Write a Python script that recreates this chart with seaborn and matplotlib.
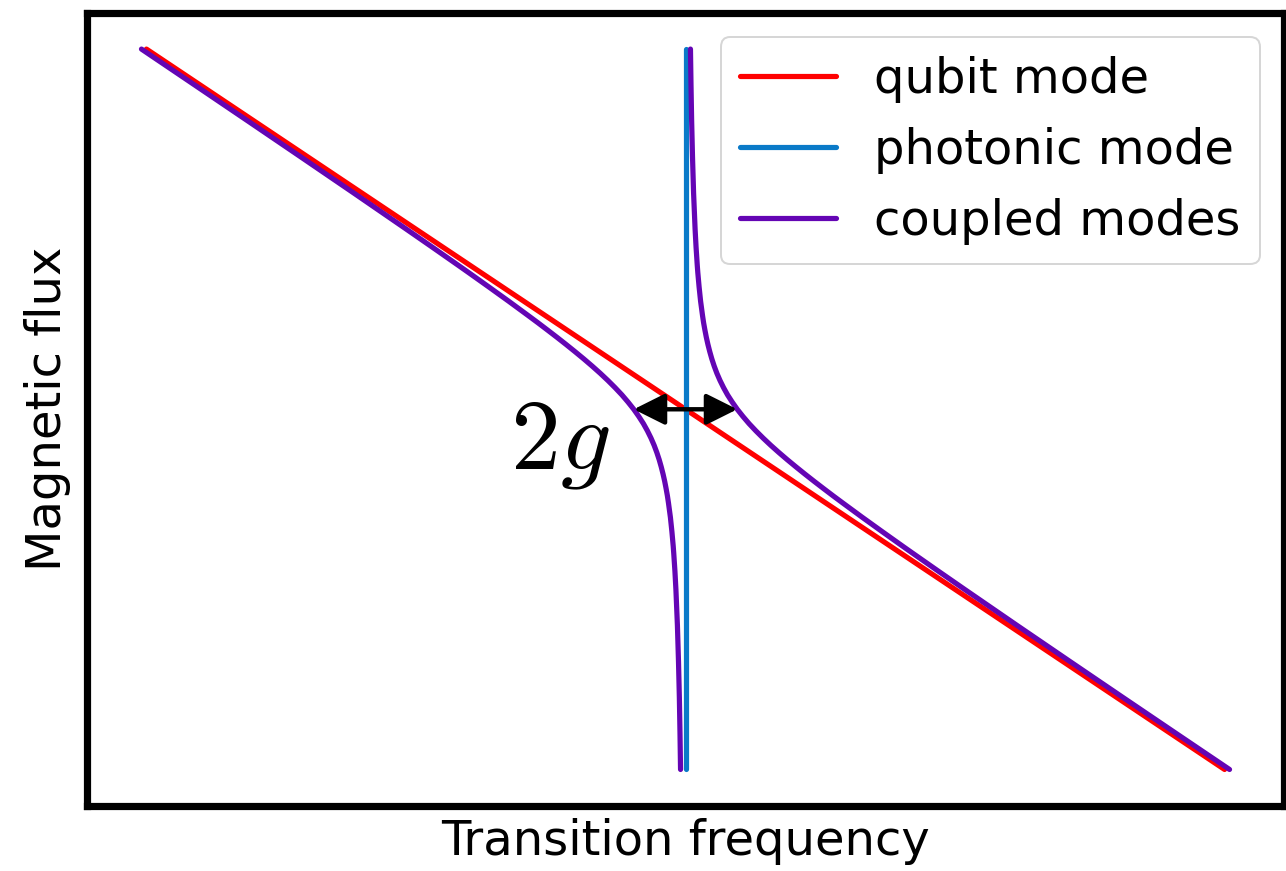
import matplotlib
matplotlib.use("Agg")
import matplotlib.pyplot as plt
import seaborn as sns

# ---- data (arbitrary units) ----
qubit_freq = [0.0, 1.0]
qubit_flux = [1.0, 0.0]

photon_freq = [0.5, 0.5]
photon_flux = [0.0, 1.0]

coupled_flux = [1.0, 0.95, 0.9, 0.85, 0.8, 0.75, 0.725, 0.7,
                0.69, 0.68, 0.67, 0.66, 0.65, 0.64, 0.63, 0.62, 0.61, 0.6,
                0.59, 0.58, 0.57, 0.56, 0.55, 0.54, 0.53, 0.52, 0.51, 0.5,
                0.49, 0.48, 0.47, 0.46, 0.45, 0.44, 0.43, 0.42, 0.41, 0.4,
                0.39, 0.38, 0.37, 0.36, 0.35, 0.34, 0.33, 0.32, 0.31,
                0.3, 0.275, 0.25, 0.2, 0.15, 0.1, 0.05, 0.0]
coupled_lower = [-0.0046, 0.0449, 0.0943, 0.1435, 0.1925, 0.2411, 0.2652, 0.2891,
                 0.2986, 0.3080, 0.3174, 0.3267, 0.3360, 0.3451, 0.3542, 0.3632,
                 0.3720, 0.3807, 0.3892, 0.3975, 0.4056, 0.4134, 0.4209, 0.4280,
                 0.4347, 0.4410, 0.4467, 0.4520, 0.4567, 0.4610, 0.4647, 0.4680,
                 0.4709, 0.4734, 0.4756, 0.4775, 0.4792, 0.4807, 0.4820, 0.4832,
                 0.4842, 0.4851, 0.4860, 0.4867, 0.4874, 0.4880, 0.4886,
                 0.4891, 0.4902, 0.4911, 0.4925, 0.4935, 0.4943, 0.4949, 0.4954]
coupled_upper = [0.5046, 0.5051, 0.5057, 0.5065, 0.5075, 0.5089, 0.5098, 0.5109,
                 0.5114, 0.5120, 0.5126, 0.5133, 0.5140, 0.5149, 0.5158, 0.5168,
                 0.5180, 0.5193, 0.5208, 0.5225, 0.5244, 0.5266, 0.5291, 0.5320,
                 0.5353, 0.5390, 0.5433, 0.5480, 0.5533, 0.5590, 0.5653, 0.5720,
                 0.5791, 0.5866, 0.5944, 0.6025, 0.6108, 0.6193, 0.6280, 0.6368,
                 0.6458, 0.6549, 0.6640, 0.6733, 0.6826, 0.6920, 0.7014,
                 0.7109, 0.7348, 0.7589, 0.8075, 0.8565, 0.9057, 0.9551, 1.0046]

gap_left, gap_right, gap_flux = 0.452, 0.548, 0.5
gap_label = r"$2g$"

# ---- style ----
sns.set_style("white")
plt.rcParams["font.family"] = ["DejaVu Sans"]
plt.rcParams["mathtext.fontset"] = "cm"
plt.rcParams["text.color"] = "black"
plt.rcParams["axes.labelcolor"] = "black"
plt.rcParams["legend.labelcolor"] = "black"

DPI = 144
fig = plt.figure(figsize=(1286 / DPI, 871 / DPI), dpi=DPI)
ax = fig.add_axes([0.0677, 0.0752, 0.9307, 0.9098])

RED = "#ff0000"
BLUE = "#0a7ac8"
PURPLE = "#6405b4"
LW = 2.6

sns.lineplot(x=qubit_freq, y=qubit_flux, sort=False, estimator=None, ax=ax,
             color=RED, lw=LW, label="qubit mode")
sns.lineplot(x=photon_freq, y=photon_flux, sort=False, estimator=None, ax=ax,
             color=BLUE, lw=LW, label="photonic mode")
sns.lineplot(x=coupled_lower, y=coupled_flux, sort=False, estimator=None, ax=ax,
             color=PURPLE, lw=LW, label="coupled modes")
sns.lineplot(x=coupled_upper, y=coupled_flux, sort=False, estimator=None, ax=ax,
             color=PURPLE, lw=LW, legend=False)

ax.annotate("", xy=(gap_right, gap_flux), xytext=(gap_left, gap_flux),
            arrowprops=dict(arrowstyle="<|-|>", color="black", lw=2.2,
                            mutation_scale=33, shrinkA=0, shrinkB=0))
ax.text(0.430, 0.417, gap_label, fontsize=50, ha="right", va="baseline",
        color="black")

ax.set_xticks([])
ax.set_yticks([])
ax.set_xlabel("Transition frequency", fontsize=24, labelpad=6, color="black")
ax.set_ylabel("Magnetic flux", fontsize=24, labelpad=8, color="black")
for s in ax.spines.values():
    s.set_visible(True)
    s.set_color("black")
    s.set_linewidth(3.6)

leg = ax.legend(loc="upper right", fontsize=24, frameon=True)
for t in leg.get_texts():
    t.set_color("black")

fig.savefig("out.png", dpi=DPI)
